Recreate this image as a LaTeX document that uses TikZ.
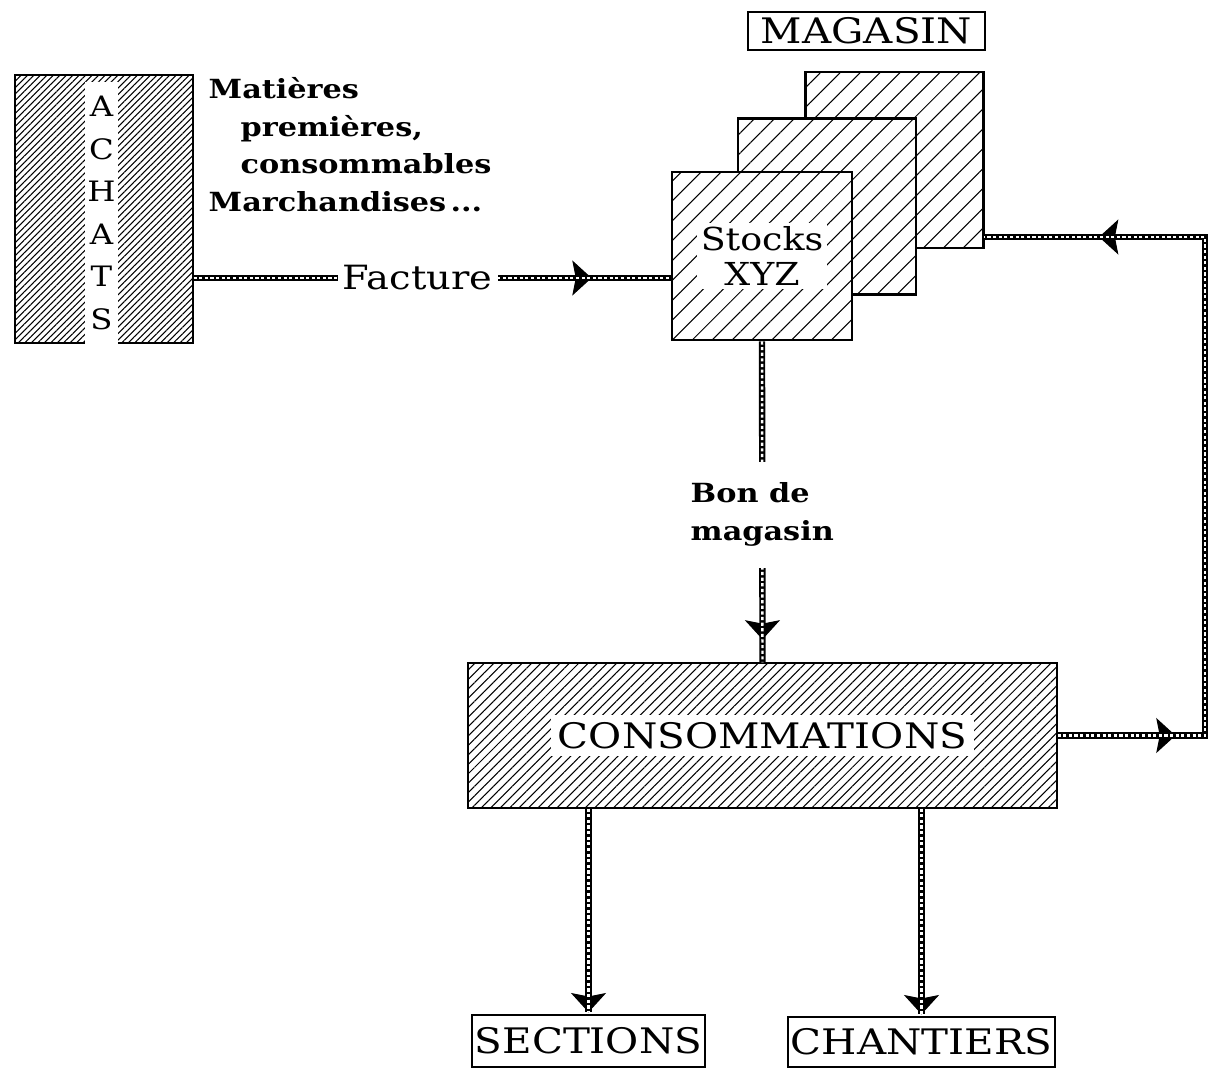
\documentclass[tikz,border=0pt]{standalone}
\usepackage{fontspec}
\setmainfont{DejaVu Serif}[FakeStretch=1.15]
\usetikzlibrary{arrows.meta,positioning,patterns.meta,decorations.markings}

\begin{document}
\begin{tikzpicture}[>=Stealth, barb/.tip={Stealth[length=11pt 0 0,width=20pt 0 0,inset=2pt 0 0,line width=0.6pt]}, rope/.style={line width=3.6pt}, links/.style={postaction={draw=white, line width=1.4pt, dash pattern=on 1.8pt off 1.4pt}}, tipat/.style={postaction={decorate, decoration={markings, mark=at position #1 with {\arrow{barb}}}}}, hatch/.style={draw, line width=1.6pt, preaction={fill=white}, pattern={Lines[angle=45,distance=#1,line width=0.6pt]}}, stock/.style={hatch=8pt, minimum width=3.56cm, minimum height=3.52cm}, tag/.style={draw, line width=0.8pt, inner sep=0pt, font=\fontsize{20}{24}\selectfont}, note/.style={font=\bfseries\fontsize{15}{21.5}\selectfont, align=left}, blank/.style={fill=white, align=center}]
\useasboundingbox (0,0) rectangle (24.26,-21.44);
\node[hatch=2.6pt, minimum width=3.56cm, minimum height=5.36cm] (achats) at (2.08,-4.18) {};
\node[blank, inner sep=0pt, minimum width=0.66cm, minimum height=5.25cm, font=\fontsize{16}{24.15}\selectfont] (achtxt) at (2.03,-4.26) {A\\C\\H\\A\\T\\S};
\node[note, anchor=north west] (items) at (4.05,-1.42) {Matières\\\hspace*{0.64cm}premières,\\\hspace*{0.64cm}consommables\\Marchandises\,...};
\node[tag, minimum width=4.74cm, minimum height=0.76cm] (magasin) at (17.33,-0.62) {MAGASIN};
\node[stock] (stock3) at (17.89,-3.20) {};
\node[stock] (stock2) at (16.54,-4.13) {};
\node[stock, minimum width=3.6cm, minimum height=3.36cm] (stocks) at (15.24,-5.12) {};
\node[blank, inner sep=2pt, font=\fontsize{18}{20}\selectfont] (stocktxt) at (stocks) {Stocks\\XYZ};
\node[hatch=3.8pt, minimum width=11.78cm, minimum height=2.9cm] (consom) at (15.25,-14.71) {};
\node[blank, inner sep=4pt, font=\fontsize{20}{24}\selectfont] (constxt) at (consom) {CONSOMMATIONS};
\node[tag, minimum width=4.66cm, minimum height=1.04cm] (sections) at (11.77,-20.82) {SECTIONS};
\node[tag, minimum width=5.34cm, minimum height=1.0cm] (chantiers) at (18.43,-20.84) {CHANTIERS};
\coordinate (facin) at ([yshift=-0.44cm]stocks.west);
\coordinate (loopr) at (consom.east -| 24.1,0);
\coordinate (stockin) at ([yshift=-1.54cm]stock3.east);
\draw[rope, tipat=-1.58cm, links] (achats.east |- facin) -- node[pos=0.47, blank, inner sep=3pt, font=\fontsize{19}{22}\selectfont] {Facture} (facin);
\draw[rope, tipat=-0.46cm, links] (stocks.south) -- node[pos=0.54, blank, note, inner xsep=2pt, inner ysep=12pt] {Bon de\\magasin} (consom.north);
\draw[rope, tipat=2.36cm, tipat=-2.3cm, links] (consom.east) -- (loopr) -- (loopr |- stockin) -- (stockin);
\draw[rope, tipat=1, links] (sections.north |- consom.south) -- ([yshift=0.04cm]sections.north);
\draw[rope, tipat=1, links] (chantiers.north |- consom.south) -- ([yshift=0.04cm]chantiers.north);
\end{tikzpicture}
\end{document}
